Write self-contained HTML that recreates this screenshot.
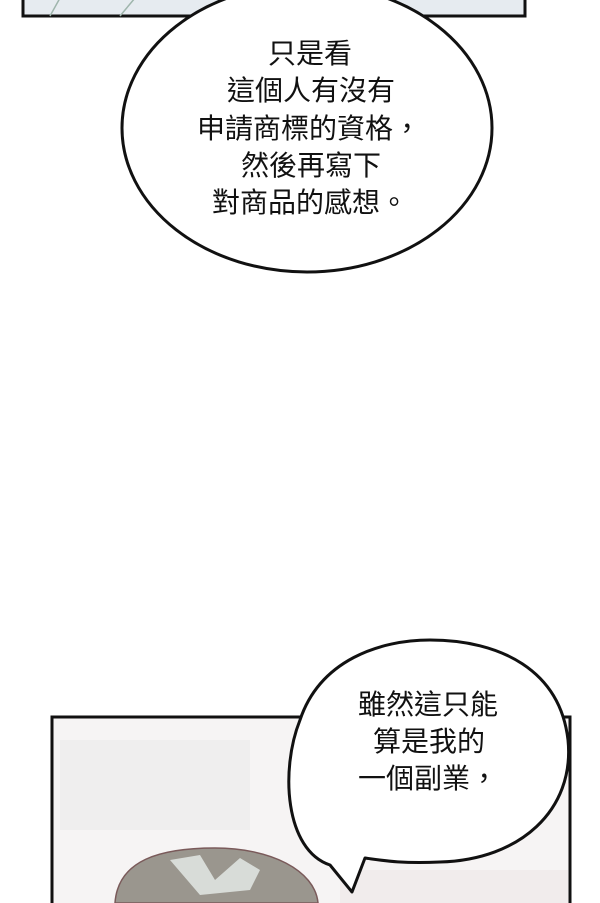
<!DOCTYPE html>
<html><head><meta charset="utf-8"><style>
html,body{margin:0;padding:0;background:#fff;}
body{width:600px;height:903px;position:relative;overflow:hidden;font-family:"Liberation Sans","Noto Sans CJK TC",sans-serif;}
.t{position:absolute;font-size:28px;color:#111;white-space:nowrap;line-height:1;}
</style></head><body>
<svg width="600" height="903" style="position:absolute;left:0;top:0">
  <rect x="23" y="-5" width="502" height="21" fill="#e6ebf0" stroke="#111" stroke-width="3"/>
  <path d="M50 16 L60 -2 M120 16 L135 -2" stroke="#9fb5ac" stroke-width="1.5"/>
  <ellipse cx="307" cy="128" rx="185" ry="144" fill="#fff" stroke="#111" stroke-width="3"/>
  <rect x="52" y="717" width="518" height="200" fill="#f6f4f4" stroke="#111" stroke-width="3"/>
  <rect x="60" y="740" width="190" height="90" fill="#efeeee"/>
  <rect x="340" y="870" width="228" height="33" fill="#f1ecec"/>
  <path d="M115 903 C118 860 160 848 215 848 C270 848 315 870 318 903 Z" fill="#9a968e" stroke="#7a5a5a" stroke-width="1.5"/>
  <path d="M170 860 L200 855 L215 880 L240 858 L260 870 L250 890 L200 895 Z" fill="#d8dcd8"/>
  <path d="M330 865 C285 850 280 770 300 720 C320 660 380 640 430 640 C500 640 560 670 568 740 C575 810 520 860 440 862 C400 864 380 860 365 858 L352 892 Z" fill="#fff" stroke="#111" stroke-width="3" stroke-linejoin="round"/>
</svg>
<div class="t" style="left:268px;top:40px">只是看</div>
<div class="t" style="left:227px;top:77px">這個人有沒有</div>
<div class="t" style="left:197px;top:115px">申請商標的資格，</div>
<div class="t" style="left:241px;top:152px">然後再寫下</div>
<div class="t" style="left:212px;top:189px">對商品的感想。</div>
<div class="t" style="left:358px;top:691px">雖然這只能</div>
<div class="t" style="left:373px;top:728px">算是我的</div>
<div class="t" style="left:358px;top:765px">一個副業，</div>
</body></html>
